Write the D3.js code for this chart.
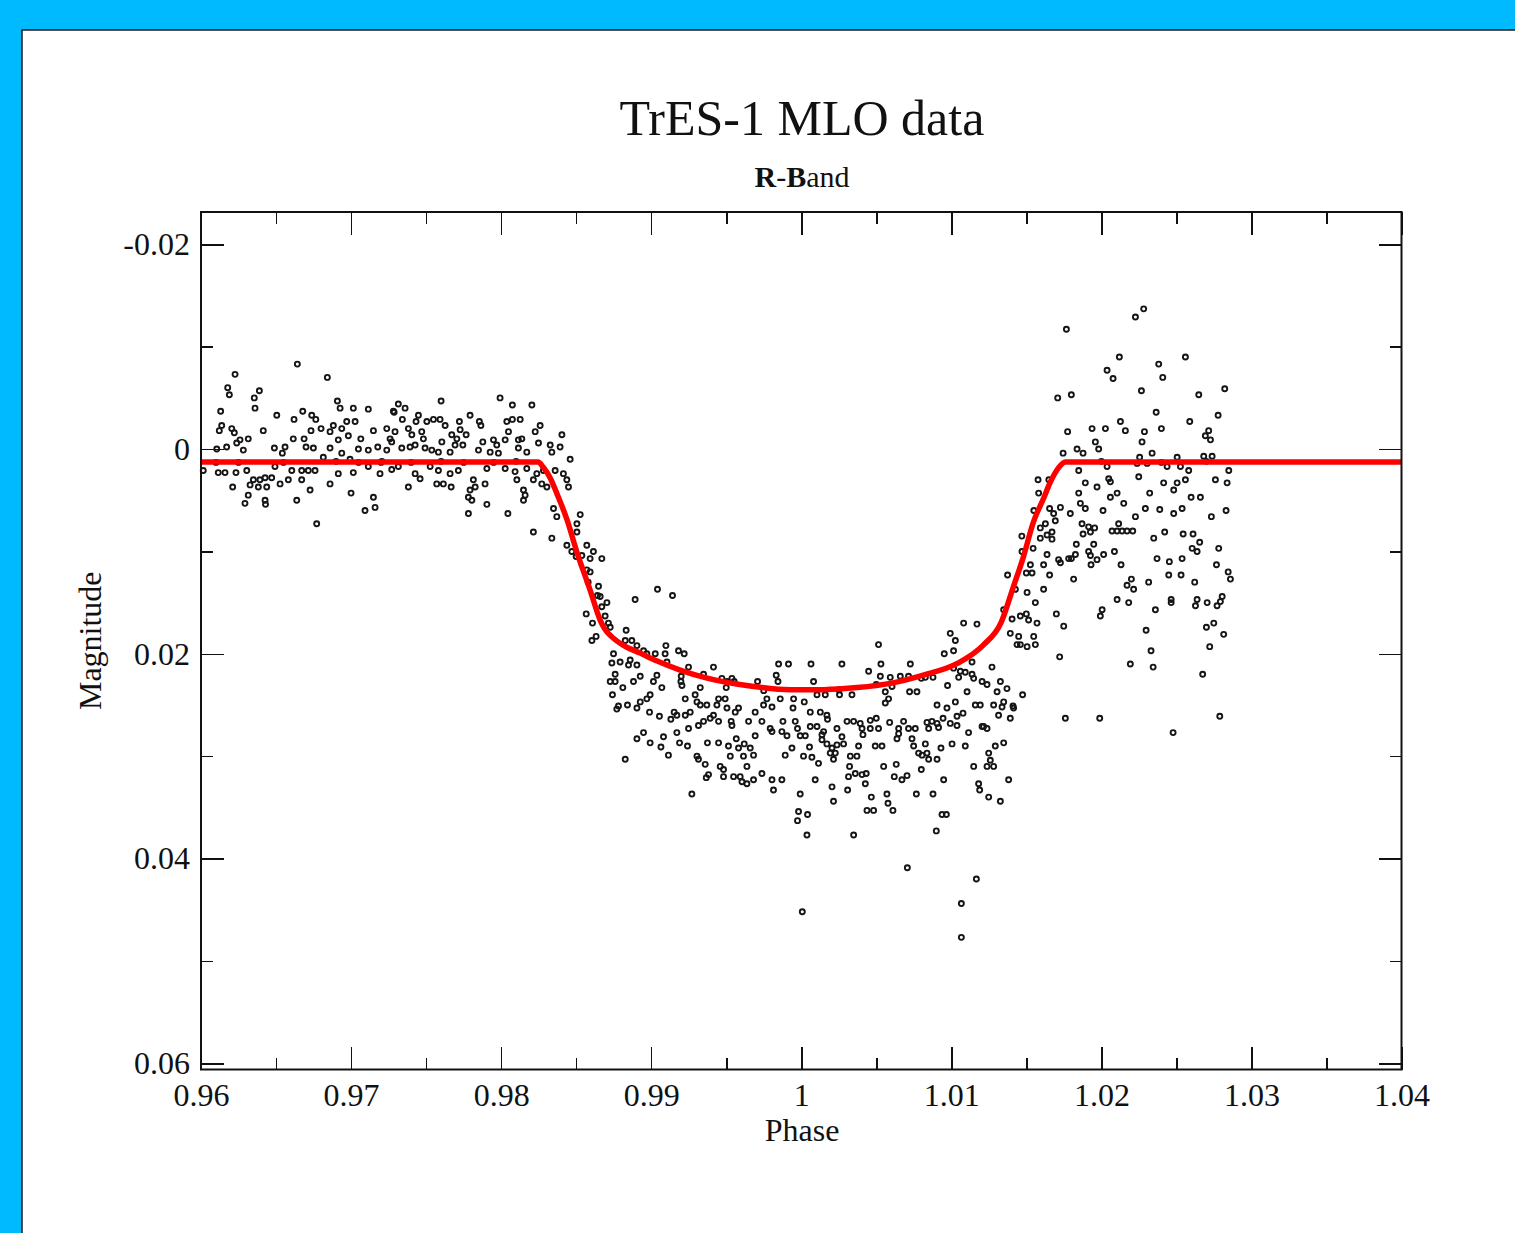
<!DOCTYPE html>
<meta charset="utf-8">
<style>
body { margin: 0; background: #00baff; }
svg { display: block; }
.tick line { stroke: #111; stroke-width: 1.6; shape-rendering: crispEdges; }
.tick text { font: 32px "Liberation Serif", "Times New Roman", serif; fill: #111; }
.pt { fill: none; stroke: #151515; stroke-width: 1.9; }
.model { fill: none; stroke: #ff0000; stroke-width: 5.5; stroke-linejoin: round; }
</style>
<body>
<script src="https://cdn.jsdelivr.net/npm/d3@7"></script>
<script>

var beforeTransit = [
 [0.96227,-0.0073],[0.96178,-0.0060],[0.96189,-0.0053],[0.96389,-0.0057],[0.96355,-0.0050],[0.96360,-0.0040],[0.96642,-0.0083],[0.96842,-0.0070],
 [0.96131,-0.0037],[0.96505,-0.0033],[0.96620,-0.0029],[0.96678,-0.0037],[0.96738,-0.0033],[0.96765,-0.0029],[0.96909,-0.0047],[0.96927,-0.0040],
 [0.97015,-0.0040],[0.97115,-0.0039],[0.97282,-0.0037],[0.96138,-0.0023],[0.96122,-0.0018],[0.96205,-0.0020],[0.96222,-0.0016],[0.96415,-0.0018],
 [0.96733,-0.0018],[0.96800,-0.0020],[0.96882,-0.0023],[0.96938,-0.0020],[0.96971,-0.0027],[0.97027,-0.0027],[0.96860,-0.0017],[0.96915,-0.0009],
 [0.96982,-0.0013],[0.97065,-0.0010],[0.97149,-0.0018],[0.97238,-0.0020],[0.97260,-0.0010],[0.96260,-0.0009],[0.96315,-0.0010],[0.96238,-0.0006],
 [0.96282,0.0001],[0.96171,-0.0002],[0.96105,0.0000],[0.96615,-0.0010],[0.96687,-0.0010],[0.96700,-0.0002],[0.96749,-0.0001],[0.96560,-0.0002],
 [0.96489,-0.0001],[0.96542,0.0004],[0.96860,-0.0001],[0.96938,0.0004],[0.96993,0.0010],[0.97049,0.0000],[0.97115,0.0001],[0.97178,-0.0002],
 [0.97238,0.0001],[0.96015,0.0021],[0.96115,0.0023],[0.96160,0.0023],[0.96233,0.0023],[0.96305,0.0021],[0.96211,0.0037],[0.96349,0.0030],
 [0.96327,0.0035],[0.96393,0.0030],[0.96427,0.0028],[0.96471,0.0028],[0.96438,0.0037],[0.96382,0.0037],[0.96315,0.0045],[0.96293,0.0053],
 [0.96427,0.0050],[0.96430,0.0054],[0.96527,0.0034],[0.96582,0.0030],[0.96605,0.0021],[0.96671,0.0021],[0.96715,0.0021],[0.96760,0.0021],
 [0.96671,0.0030],[0.96727,0.0040],[0.96638,0.0050],[0.96771,0.0073],[0.96860,0.0034],[0.96915,0.0024],[0.97015,0.0023],[0.97000,0.0043],
 [0.97149,0.0047],[0.97093,0.0060],[0.97160,0.0057],[0.97193,0.0024],[0.97271,0.0020],[0.96493,0.0017],[0.96815,0.0008],[0.97115,0.0017],
 [0.97205,0.0012],[0.96100,0.0013],[0.96250,0.0013],[0.96550,0.0013],[0.96900,0.0012],[0.97050,0.0013],[0.97200,0.0013],
 [0.97600,-0.0047],[0.97993,-0.0050],[0.98075,-0.0043],[0.98205,-0.0043],[0.97315,-0.0044],[0.97360,-0.0040],[0.97287,-0.0036],[0.97449,-0.0033],
 [0.97342,-0.0029],[0.97433,-0.0027],[0.97505,-0.0027],[0.97549,-0.0029],[0.97593,-0.0029],[0.97627,-0.0023],[0.97722,-0.0027],[0.97727,-0.0019],
 [0.97793,-0.0033],[0.97855,-0.0027],[0.97865,-0.0023],[0.98038,-0.0027],[0.98075,-0.0029],[0.98127,-0.0029],[0.98049,-0.0017],[0.98260,-0.0023],
 [0.98227,-0.0017],[0.98405,-0.0014],[0.97382,-0.0020],[0.97405,-0.0014],[0.97471,-0.0017],[0.97482,-0.0010],[0.97605,-0.0007],[0.97671,-0.0014],
 [0.97767,-0.0014],[0.97705,-0.0010],[0.97293,-0.0017],[0.97271,-0.0007],[0.97338,-0.0001],[0.97393,-0.0002],[0.97427,-0.0004],[0.97493,-0.0001],
 [0.97538,0.0001],[0.97582,0.0003],[0.97660,0.0003],[0.97693,-0.0004],[0.97745,-0.0004],[0.97878,-0.0007],[0.97949,-0.0009],[0.97971,-0.0004],
 [0.98027,-0.0009],[0.98115,-0.0009],[0.98138,-0.0010],[0.97849,0.0001],[0.97927,0.0003],[0.97982,0.0004],[0.98115,-0.0001],[0.98171,0.0003],
 [0.98249,-0.0006],[0.98327,-0.0004],[0.98338,0.0003],[0.98393,-0.0002],[0.98460,0.0010],[0.97315,0.0017],[0.97427,0.0024],[0.97527,0.0017],
 [0.97582,0.0021],[0.97660,0.0024],[0.97715,0.0021],[0.97460,0.0029],[0.97382,0.0037],[0.97571,0.0034],[0.97615,0.0034],[0.97667,0.0037],
 [0.97815,0.0030],[0.97827,0.0037],[0.97893,0.0034],[0.97905,0.0019],[0.98027,0.0019],[0.98093,0.0022],[0.98105,0.0030],[0.97793,0.0040],
 [0.97782,0.0047],[0.97805,0.0050],[0.97905,0.0054],[0.97782,0.0063],[0.98045,0.0063],[0.98149,0.0040],[0.98160,0.0045],[0.98149,0.0050],
 [0.98215,0.0081],[0.98338,0.0087],[0.97400,0.0013],[0.97600,0.0012],[0.97750,0.0013],[0.97950,0.0013],[0.98100,0.0012]
];

var ingress = [
 [0.98171,0.0019],[0.98238,0.0024],[0.98282,0.0021],[0.98215,0.0030],[0.98271,0.0034],[0.98305,0.0037],[0.98360,0.0021],[0.98415,0.0024],
 [0.98438,0.0030],[0.98449,0.0037],[0.98349,0.0058],[0.98371,0.0066],[0.98527,0.0064],[0.98505,0.0073],[0.98505,0.0081],[0.98438,0.0094],
 [0.98471,0.0100],[0.98571,0.0094],[0.98538,0.0104],[0.98615,0.0100],[0.98671,0.0107],[0.98593,0.0107],[0.98571,0.0118],[0.98593,0.0120],
 [0.98649,0.0134],[0.98642,0.0143],[0.98660,0.0144],[0.98705,0.0150],[0.98671,0.0154],[0.98693,0.0163],[0.98567,0.0161],[0.98609,0.0170],
 [0.98715,0.0170],[0.98727,0.0174],[0.98633,0.0183],[0.98605,0.0187],[0.98893,0.0147],[0.99042,0.0137],[0.99142,0.0143],[0.98500,0.0105],
 [0.98580,0.0130]
];

var transitFloor = [
 [0.98833,0.0177],[0.98827,0.0187],[0.98871,0.0187],[0.98905,0.0192],[0.98949,0.0197],[0.98971,0.0200],[0.99027,0.0200],[0.99098,0.0192],
 [0.99093,0.0200],[0.99105,0.0208],[0.99182,0.0197],[0.99220,0.0200],[0.98749,0.0200],[0.98738,0.0209],[0.98793,0.0208],[0.98860,0.0206],
 [0.98849,0.0211],[0.98905,0.0211],[0.99249,0.0213],[0.99415,0.0213],[0.99349,0.0220],[0.98760,0.0220],[0.98927,0.0222],[0.99038,0.0221],
 [0.99471,0.0224],[0.99538,0.0224],[0.98727,0.0227],[0.98760,0.0227],[0.98811,0.0233],[0.98742,0.0240],[0.98782,0.0251],[0.98842,0.0250],
 [0.98771,0.0254],[0.98882,0.0227],[0.99015,0.0227],[0.99071,0.0233],[0.98993,0.0240],[0.98971,0.0244],[0.98927,0.0247],[0.98905,0.0253],
 [0.98989,0.0257],[0.99055,0.0261],[0.99131,0.0264],[0.99153,0.0257],[0.99171,0.0260],[0.99227,0.0244],[0.99293,0.0240],[0.99305,0.0247],
 [0.99198,0.0227],[0.99205,0.0231],[0.99327,0.0233],[0.99505,0.0227],[0.99553,0.0227],[0.99709,0.0227],[0.99833,0.0221],[0.99845,0.0227],
 [0.99849,0.0210],[0.99915,0.0210],[0.99227,0.0260],[0.99260,0.0257],[0.99327,0.0250],[0.99371,0.0250],[0.99438,0.0250],[0.99449,0.0244],
 [0.99493,0.0244],[0.99505,0.0253],[0.99582,0.0253],[0.99560,0.0257],[0.99693,0.0257],[0.99749,0.0250],[0.99771,0.0244],[0.99860,0.0244],
 [0.99805,0.0252],[0.99949,0.0244],[0.99945,0.0253],[0.99415,0.0260],[0.99393,0.0263],[0.99349,0.0266],[0.99315,0.0270],[0.99249,0.0273],
 [0.99171,0.0277],[0.99082,0.0281],[0.98949,0.0277],[0.98905,0.0283],[0.98993,0.0287],[0.99065,0.0291],[0.99115,0.0299],[0.99189,0.0287],
 [0.99242,0.0290],[0.99449,0.0266],[0.99533,0.0266],[0.99538,0.0270],[0.99649,0.0266],[0.99738,0.0266],[0.99793,0.0273],[0.99805,0.0276],
 [0.99878,0.0266],[0.99871,0.0276],[0.99905,0.0280],[0.99960,0.0266],[0.99693,0.0280],[0.99567,0.0283],[0.99515,0.0290],[0.99449,0.0287],
 [0.99375,0.0287],[0.99582,0.0292],[0.99620,0.0288],[0.99660,0.0292],[0.99615,0.0300],[0.99682,0.0299],[0.99527,0.0300],[0.99305,0.0300],
 [0.99315,0.0303],[0.99360,0.0308],[0.98827,0.0303],[0.99460,0.0310],[0.99482,0.0313],[0.99638,0.0310],[0.99738,0.0317],[0.99805,0.0323],
 [0.99871,0.0323],[0.99815,0.0333],[0.99893,0.0299],[0.99938,0.0292],[0.99382,0.0318],[0.99367,0.0321],[0.99482,0.0320],[0.99549,0.0320],
 [0.99593,0.0320],[0.99605,0.0325],[0.99638,0.0327],[0.99682,0.0323],[0.99271,0.0337],[0.99982,0.0354],
 [1.01082,0.0170],[1.01171,0.0171],[1.00993,0.0180],[1.01027,0.0187],[1.00515,0.0191],[1.00953,0.0200],[1.01015,0.0197],[1.01393,0.0180],
 [1.01449,0.0183],[1.01438,0.0191],[1.01505,0.0193],[1.00065,0.0210],[1.00271,0.0210],[1.00531,0.0210],[1.00727,0.0210],[1.00449,0.0217],
 [1.01138,0.0208],[1.01271,0.0213],[1.01015,0.0214],[1.01060,0.0217],[1.01093,0.0218],[1.01138,0.0220],[1.01149,0.0224],[1.01049,0.0223],
 [1.01205,0.0227],[1.01238,0.0230],[1.01327,0.0227],[1.01371,0.0234],[1.01305,0.0237],[1.01475,0.0240],[1.00082,0.0227],[1.00527,0.0222],
 [1.00593,0.0223],[1.00660,0.0222],[1.00715,0.0222],[1.00827,0.0223],[1.00878,0.0223],[1.00975,0.0231],[1.01105,0.0237],[1.00605,0.0232],
 [1.00560,0.0237],[1.00722,0.0237],[1.00771,0.0237],[1.00105,0.0240],[1.00160,0.0240],[1.00255,0.0240],[1.00338,0.0240],[1.00020,0.0247],
 [1.00582,0.0244],[1.00560,0.0248],[1.00060,0.0257],[1.00127,0.0257],[1.00171,0.0260],[1.00175,0.0264],[0.99975,0.0273],[1.00060,0.0271],
 [1.00105,0.0271],[1.00149,0.0276],[1.00238,0.0273],[1.00305,0.0266],[1.00349,0.0266],[1.00393,0.0268],[1.00405,0.0273],[1.00460,0.0265],
 [1.00500,0.0263],[1.00515,0.0273],[1.00460,0.0273],[1.00411,0.0279],[1.00589,0.0267],[1.00649,0.0273],[1.00682,0.0266],[1.00715,0.0273],
 [1.00760,0.0273],[1.00649,0.0278],[1.00638,0.0283],[1.00838,0.0267],[1.00871,0.0266],[1.00905,0.0268],[1.00945,0.0263],[1.00915,0.0272],
 [1.00849,0.0273],[1.00993,0.0268],[1.01038,0.0270],[1.00905,0.0250],[1.00971,0.0253],[1.01027,0.0247],[1.01078,0.0258],[1.01038,0.0261],
 [1.01160,0.0250],[1.01193,0.0250],[1.01282,0.0250],[1.01315,0.0260],[1.01338,0.0252],[1.01349,0.0247],[1.01393,0.0263],[1.01411,0.0251],
 [1.01115,0.0277],[1.01205,0.0271],[1.01238,0.0273],[1.01215,0.0271],[0.99993,0.0280],[1.00027,0.0280],[1.00055,0.0291],[1.00138,0.0279],
 [1.00138,0.0284],[1.00171,0.0288],[1.00205,0.0292],[1.00238,0.0289],[1.00271,0.0281],[1.00282,0.0288],[1.00227,0.0297],[1.00193,0.0297],
 [1.00015,0.0300],[1.00071,0.0301],[1.00115,0.0307],[1.00215,0.0303],[1.00327,0.0300],[1.00371,0.0300],[1.00382,0.0290],[1.00493,0.0290],
 [1.00538,0.0290],[1.00322,0.0310],[1.00360,0.0317],[1.00405,0.0318],[1.00433,0.0317],[1.00315,0.0320],[1.00427,0.0327],[1.00549,0.0310],
 [1.00633,0.0308],[1.00620,0.0320],[1.00671,0.0323],[1.00705,0.0319],[1.00738,0.0283],[1.00749,0.0290],[1.00827,0.0288],[1.00782,0.0297],
 [1.00805,0.0299],[1.00838,0.0297],[1.00849,0.0303],[1.00800,0.0313],[1.00905,0.0303],[1.00931,0.0292],[1.01005,0.0288],[1.01093,0.0290],
 [1.01182,0.0327],[1.01189,0.0333],[1.01149,0.0310],[1.01238,0.0310],[1.01260,0.0304],[1.01282,0.0310],[1.01249,0.0297],[1.01293,0.0290],
 [1.01349,0.0287],[1.01382,0.0323],[1.00949,0.0323],[1.01249,0.0340],[1.01327,0.0344],[1.00093,0.0323],[1.00205,0.0330],[1.00309,0.0333],
 [1.00215,0.0344],[0.99993,0.0337],[1.00467,0.0340],[1.00571,0.0337],[1.00578,0.0346],[1.00767,0.0337],[1.00878,0.0337],[1.00438,0.0353],
 [1.00482,0.0353],[1.00611,0.0353],[1.00938,0.0357],[1.00967,0.0357],[1.00042,0.0357],[0.99975,0.0363],[1.00038,0.0377],[1.00349,0.0377],
 [1.00900,0.0373],[1.00007,0.0452],[1.01067,0.0444],[1.01167,0.0420],[1.01067,0.0477],[1.00707,0.0409],
 [0.99500,0.0233],[0.99750,0.0236],[1.00250,0.0235],[1.00500,0.0230],[1.00800,0.0224],[0.99200,0.0222]
];

var afterTransit = [
 [1.02282,-0.0137],[1.02227,-0.0129],[1.01767,-0.0117],[1.02120,-0.0090],[1.02560,-0.0090],[1.02382,-0.0083],[1.02038,-0.0077],[1.02078,-0.0069],
 [1.02409,-0.0070],[1.02267,-0.0057],[1.02822,-0.0059],[1.02649,-0.0053],[1.01709,-0.0050],[1.01800,-0.0053],[1.02365,-0.0036],[1.02778,-0.0033],
 [1.02127,-0.0027],[1.02589,-0.0027],[1.01775,-0.0017],[1.01938,-0.0020],[1.02027,-0.0020],[1.02160,-0.0018],[1.02287,-0.0017],[1.02400,-0.0020],
 [1.02715,-0.0018],[1.02693,-0.0013],[1.02727,-0.0009],[1.01960,-0.0007],[1.01982,0.0000],[1.02271,-0.0007],[1.01745,0.0004],[1.01838,0.0000],
 [1.01878,0.0004],[1.02338,0.0004],[1.02255,0.0008],[1.02505,0.0008],[1.02682,0.0007],[1.02738,0.0007],[1.02038,0.0017],[1.01849,0.0021],
 [1.02238,0.0014],[1.02305,0.0014],[1.02438,0.0017],[1.02527,0.0017],[1.02582,0.0021],[1.02849,0.0021],[1.01578,0.0030],[1.01893,0.0033],
 [1.01971,0.0037],[1.02049,0.0029],[1.02060,0.0032],[1.02249,0.0027],[1.02415,0.0033],[1.02482,0.0040],[1.02505,0.0033],[1.02560,0.0030],
 [1.02760,0.0030],[1.02838,0.0033],[1.01582,0.0043],[1.01849,0.0043],[1.02105,0.0043],[1.02060,0.0047],[1.02322,0.0043],[1.02598,0.0047],
 [1.02660,0.0047],[1.01860,0.0053],[1.02149,0.0053],[1.01655,0.0058],[1.01727,0.0057],[1.01793,0.0063],[1.01893,0.0058],[1.02011,0.0060],
 [1.02293,0.0058],[1.02389,0.0059],[1.02482,0.0063],[1.02538,0.0058],[1.02733,0.0066],[1.02831,0.0060],[1.01682,0.0063],[1.02227,0.0066],
 [1.01871,0.0073],[1.01693,0.0070],[1.01627,0.0073],[1.01593,0.0077],[1.01671,0.0081],[1.01638,0.0084],[1.01593,0.0087],[1.01671,0.0088],
 [1.01915,0.0076],[1.01955,0.0077],[1.01878,0.0083],[1.01927,0.0081],[1.02071,0.0080],[1.02115,0.0073],[1.02105,0.0080],[1.02138,0.0080],
 [1.02171,0.0080],[1.02209,0.0080],[1.02422,0.0081],[1.02349,0.0087],[1.02545,0.0083],[1.02611,0.0083],[1.02655,0.0091],[1.02605,0.0097],
 [1.02638,0.0100],[1.02782,0.0097],[1.01833,0.0093],[1.01949,0.0093],[1.01915,0.0100],[1.01927,0.0104],[1.02087,0.0100],[1.02015,0.0103],
 [1.01971,0.0108],[1.01931,0.0113],[1.01827,0.0103],[1.01800,0.0107],[1.01782,0.0107],[1.01727,0.0111],[1.01715,0.0108],[1.01638,0.0103],
 [1.01615,0.0113],[1.01545,0.0097],[1.01471,0.0100],[1.01527,0.0113],[1.01500,0.0121],[1.01538,0.0121],[1.01655,0.0123],[1.01815,0.0127],
 [1.02131,0.0113],[1.02371,0.0107],[1.02453,0.0110],[1.02538,0.0107],[1.02449,0.0123],[1.02531,0.0123],[1.02767,0.0113],[1.02845,0.0120],
 [1.02860,0.0127],[1.02622,0.0130],[1.02315,0.0130],[1.02200,0.0127],[1.02171,0.0133],[1.02215,0.0137],[1.01375,0.0123],[1.01427,0.0137],
 [1.01505,0.0140],[1.01615,0.0137],[1.01560,0.0150],[1.02105,0.0147],[1.02182,0.0150],[1.02005,0.0157],[1.01993,0.0163],[1.02360,0.0157],
 [1.02465,0.0147],[1.02465,0.0150],[1.02638,0.0147],[1.02627,0.0153],[1.02705,0.0150],[1.02771,0.0153],[1.02805,0.0144],[1.02793,0.0149],
 [1.01349,0.0157],[1.01405,0.0166],[1.01460,0.0163],[1.01500,0.0161],[1.01515,0.0167],[1.01571,0.0170],[1.01700,0.0161],[1.01749,0.0173],
 [1.01460,0.0191],[1.01549,0.0183],[1.01560,0.0191],[1.01722,0.0203],[1.02298,0.0177],[1.02331,0.0197],[1.02345,0.0213],[1.02193,0.0210],
 [1.02700,0.0174],[1.02749,0.0170],[1.02815,0.0181],[1.02722,0.0193],[1.02675,0.0220],[1.01415,0.0253],[1.01760,0.0263],[1.01989,0.0263],
 [1.02478,0.0277],[1.02789,0.0261],[1.01470,0.0085],[1.01550,0.0060],[1.01650,0.0030],[1.02000,0.0012],[1.02400,0.0013],[1.02700,0.0012]
];

// fitted transit model (red curve)
var modelPhase = [0.96, 0.98247, 0.98280, 0.98327, 0.98373, 0.98440, 0.98507, 0.98593, 0.98660, 0.98687, 0.98740, 0.98813,
                  0.98927, 0.99040, 0.99193, 0.99373, 0.99660, 0.99927, 1.00150, 1.00373, 1.00593, 1.00813, 1.01040, 1.01213,
                  1.01333, 1.01413, 1.01480, 1.01547, 1.01613, 1.01660, 1.01713, 1.01760, 1.04];
var modelMag   = [0.00127, 0.00127, 0.00176, 0.00283, 0.00440, 0.00694, 0.01016, 0.01377, 0.01670, 0.01749, 0.01837, 0.01915,
                  0.01993, 0.02071, 0.02159, 0.02237, 0.02315, 0.02352, 0.02350, 0.02330, 0.02289, 0.02208, 0.02094, 0.01915,
                  0.01690, 0.01348, 0.01055, 0.00713, 0.00488, 0.00322, 0.00186, 0.00127, 0.00127];

// axis ticks
var xMajor = [0.96, 0.97, 0.98, 0.99, 1.00, 1.01, 1.02, 1.03, 1.04];
var xLabels = ["0.96", "0.97", "0.98", "0.99", "1", "1.01", "1.02", "1.03", "1.04"];
var xMinor = [0.965, 0.975, 0.985, 0.995, 1.005, 1.015, 1.025, 1.035];
var yMajor = [-0.02, 0, 0.02, 0.04, 0.06];
var yLabels = ["-0.02", "0", "0.02", "0.04", "0.06"];
var yMinor = [-0.01, 0.01, 0.03, 0.05];

var W = 1515, H = 1233;
var plot = {left: 201, right: 1401.5, top: 212, bottom: 1069.5};

var svg = d3.select("body").append("svg")
    .attr("width", W)
    .attr("height", H);

// white page on the cyan background
svg.append("rect")
    .attr("x", 22).attr("y", 30)
    .attr("width", W).attr("height", H)
    .attr("fill", "#fff")
    .attr("stroke", "#1a1a1a")
    .attr("stroke-width", 1.5);

var x = d3.scaleLinear().domain([0.96, 1.04]).range([plot.left, plot.right]);
// magnitude axis runs downward
var y = d3.scaleLinear().domain([-0.02316, 0.06061]).range([plot.top, plot.bottom]);

var serif = '"Liberation Serif", "Times New Roman", serif';

// titles
svg.append("text")
    .attr("x", 802).attr("y", 135)
    .attr("text-anchor", "middle")
    .style("font", "50px " + serif)
    .style("fill", "#111")
    .text("TrES-1 MLO data");

var sub = svg.append("text")
    .attr("x", 802).attr("y", 187)
    .attr("text-anchor", "middle")
    .style("font", "30px " + serif)
    .style("fill", "#111");
sub.append("tspan").style("font-weight", "bold").text("R");
sub.append("tspan").text("-");
sub.append("tspan").style("font-weight", "bold").text("B");
sub.append("tspan").text("and");

// axes, ticks pointing inward on all four sides
function addAxis(axis, tx, ty) {
    var g = svg.append("g")
        .attr("transform", "translate(" + tx + "," + ty + ")")
        .call(axis);
    g.select(".domain").remove();
    return g;
}

addAxis(d3.axisBottom(x).tickValues(xMajor).tickSize(-23).tickPadding(14)
    .tickFormat(function(d, i) { return xLabels[i]; }), 0, plot.bottom);
addAxis(d3.axisBottom(x).tickValues(xMinor).tickSize(-12).tickFormat(""), 0, plot.bottom);
addAxis(d3.axisTop(x).tickValues(xMajor).tickSize(-23).tickFormat(""), 0, plot.top);
addAxis(d3.axisTop(x).tickValues(xMinor).tickSize(-12).tickFormat(""), 0, plot.top);

addAxis(d3.axisLeft(y).tickValues(yMajor).tickSize(-23).tickPadding(11)
    .tickFormat(function(d, i) { return yLabels[i]; }), plot.left, 0);
addAxis(d3.axisLeft(y).tickValues(yMinor).tickSize(-12).tickFormat(""), plot.left, 0);
addAxis(d3.axisRight(y).tickValues(yMajor).tickSize(-23).tickFormat(""), plot.right, 0);
addAxis(d3.axisRight(y).tickValues(yMinor).tickSize(-12).tickFormat(""), plot.right, 0);

// axis titles
svg.append("text")
    .attr("x", 802).attr("y", 1141)
    .attr("text-anchor", "middle")
    .style("font", "32px " + serif)
    .style("fill", "#111")
    .text("Phase");

svg.append("text")
    .attr("transform", "translate(101," + ((plot.top + plot.bottom) / 2) + ") rotate(-90)")
    .attr("text-anchor", "middle")
    .style("font", "32px " + serif)
    .style("fill", "#111")
    .text("Magnitude");

// observations
var points = beforeTransit.concat(ingress, transitFloor, afterTransit);

svg.append("g").selectAll("circle")
    .data(points)
  .enter().append("circle")
    .attr("class", "pt")
    .attr("cx", function(d) { return x(d[0]); })
    .attr("cy", function(d) { return y(d[1]); })
    .attr("r", 2.5);

// model curve
var model = modelPhase.map(function(p, i) { return [p, modelMag[i]]; });
var line = d3.line()
    .x(function(d) { return x(d[0]); })
    .y(function(d) { return y(d[1]); })
    .curve(d3.curveMonotoneX);

svg.append("path")
    .datum(model)
    .attr("class", "model")
    .attr("d", line);

// plot frame
svg.append("rect")
    .attr("x", plot.left).attr("y", plot.top)
    .attr("width", plot.right - plot.left)
    .attr("height", plot.bottom - plot.top)
    .attr("fill", "none")
    .attr("stroke", "#111")
    .attr("stroke-width", 2);

</script>
</body>
